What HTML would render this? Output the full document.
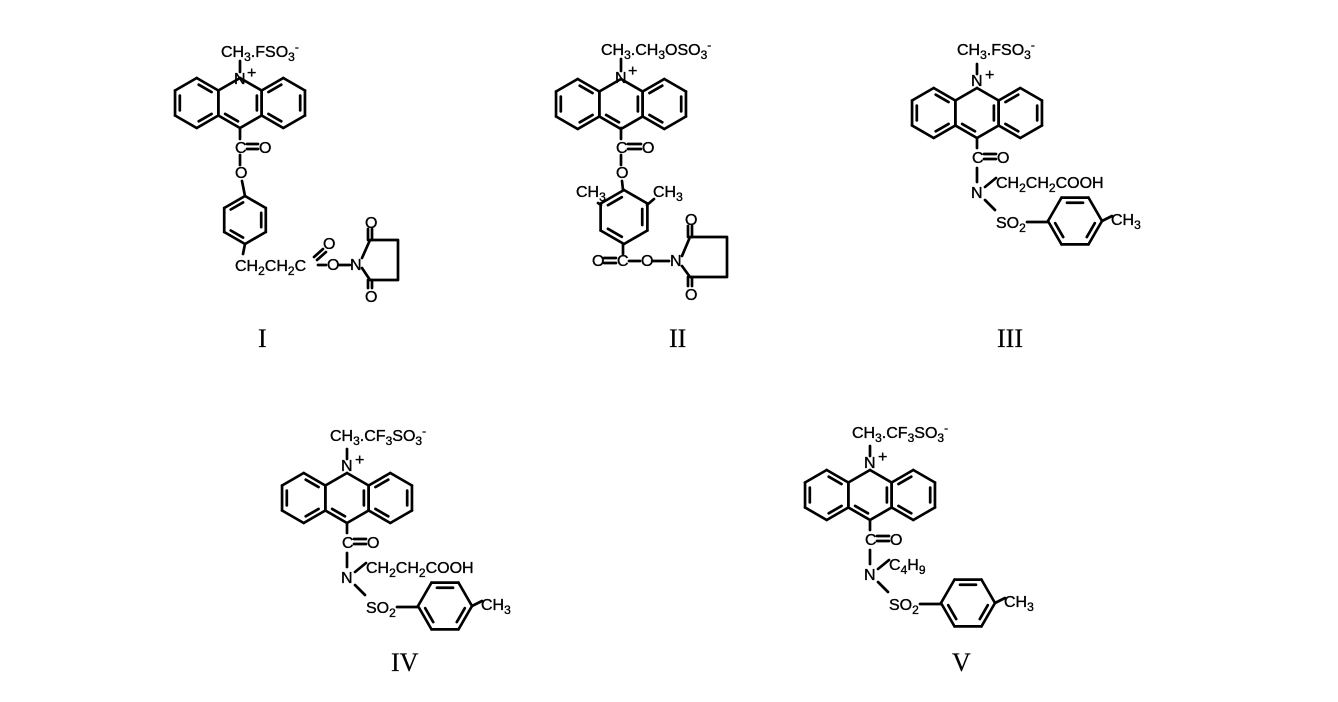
<!DOCTYPE html>
<html><head><meta charset="utf-8"><style>
html,body{margin:0;padding:0;background:#fff;}
svg{display:block;}
text{font-family:"Liberation Sans",Arial,sans-serif;font-size:16px;fill:#000;stroke:#000;stroke-width:0.35;}
.r{font-family:"Liberation Serif",serif;font-size:26px;stroke-width:0.2;}
line,polyline,polygon{stroke:#000;stroke-width:2.7;fill:none;stroke-linecap:round;stroke-linejoin:round;}
</style></head><body>
<svg id="s" width="1338" height="702" viewBox="0 0 1338 702" xmlns="http://www.w3.org/2000/svg">
<rect width="1338" height="702" fill="#fff"/>
<g id="rings"></g>

<!-- ===== I ===== -->
<text x="221" y="57">CH<tspan dy="4" font-size="12">3</tspan><tspan dy="-4">.FSO</tspan><tspan dy="4" font-size="12">3</tspan><tspan dy="-10" font-size="12">-</tspan></text>
<line x1="240" y1="61" x2="240" y2="72"/>
<text x="234" y="84">N</text><text x="247" y="78" font-size="13">+</text>
<line x1="240" y1="128" x2="240" y2="139"/>
<text x="235" y="153">C</text>
<line x1="247" y1="144" x2="258" y2="144"/><line x1="247" y1="149" x2="258" y2="149"/>
<text x="259" y="153">O</text>
<line x1="240" y1="155" x2="240" y2="165"/>
<text x="235" y="178">O</text>
<line x1="242" y1="181" x2="245" y2="196"/>
<line x1="245" y1="244" x2="243" y2="254"/>
<text x="235" y="271" font-size="17">CH<tspan dy="4" font-size="12">2</tspan><tspan dy="-4">CH</tspan><tspan dy="4" font-size="12">2</tspan><tspan dy="-4">C</tspan></text>
<line x1="314" y1="257" x2="323" y2="249"/><line x1="317" y1="260" x2="326" y2="252"/>
<text x="323" y="249">O</text>
<line x1="318" y1="265" x2="326" y2="265"/>
<text x="327" y="270">O</text>
<line x1="339" y1="265" x2="350" y2="265"/>
<text x="350" y="270">N</text>
<polyline points="362,258 370,240 398,240 398,280 370,280 362,268"/>
<line x1="368" y1="240" x2="368" y2="229"/><line x1="372" y1="240" x2="372" y2="229"/>
<text x="365" y="228">O</text>
<line x1="368" y1="280" x2="368" y2="288"/><line x1="372" y1="280" x2="372" y2="288"/>
<text x="365" y="302">O</text>
<text x="258" y="347" class="r">I</text>

<!-- ===== II ===== -->
<text x="601" y="55">CH<tspan dy="4" font-size="12">3</tspan><tspan dy="-4">.CH</tspan><tspan dy="4" font-size="12">3</tspan><tspan dy="-4">OSO</tspan><tspan dy="4" font-size="12">3</tspan><tspan dy="-10" font-size="12">-</tspan></text>
<line x1="621" y1="59" x2="621" y2="71"/>
<text x="615" y="83">N</text><text x="628" y="76" font-size="13">+</text>
<line x1="621" y1="128" x2="621" y2="139"/>
<text x="616" y="153">C</text>
<line x1="628" y1="144" x2="641" y2="144"/><line x1="628" y1="149" x2="641" y2="149"/>
<text x="642" y="153">O</text>
<line x1="621" y1="155" x2="621" y2="165"/>
<text x="616" y="178">O</text>
<line x1="622" y1="181" x2="623" y2="190"/>
<text x="576" y="197">CH<tspan dy="4" font-size="12">3</tspan></text>
<line x1="598" y1="203" x2="601" y2="205"/>
<text x="653" y="197">CH<tspan dy="4" font-size="12">3</tspan></text>
<line x1="647" y1="205" x2="654" y2="199"/>
<line x1="623" y1="244" x2="623" y2="254"/>
<text x="592" y="266">O</text>
<line x1="604" y1="258" x2="616" y2="258"/><line x1="604" y1="263" x2="616" y2="263"/>
<text x="617" y="266">C</text>
<line x1="629" y1="261" x2="640" y2="261"/>
<text x="641" y="266">O</text>
<line x1="653" y1="261" x2="669" y2="261"/>
<text x="670" y="266">N</text>
<polyline points="682,256 690,237 727,237 727,277 690,277 682,266"/>
<line x1="688" y1="237" x2="688" y2="226"/><line x1="692" y1="237" x2="692" y2="226"/>
<text x="685" y="225">O</text>
<line x1="688" y1="277" x2="688" y2="286"/><line x1="692" y1="277" x2="692" y2="286"/>
<text x="685" y="300">O</text>
<text x="669" y="347" class="r">II</text>

<!-- ===== III template ===== -->
<g id="t3">
<line x1="977" y1="64" x2="977" y2="74"/>
<text x="971" y="86">N</text><text x="985" y="80" font-size="13">+</text>
<line x1="977" y1="138" x2="977" y2="148"/>
<text x="972" y="163">C</text>
<line x1="984" y1="154" x2="996" y2="154"/><line x1="984" y1="159" x2="996" y2="159"/>
<text x="997" y="163">O</text>
<line x1="977" y1="168" x2="977" y2="182"/>
<text x="971" y="198">N</text>
<line x1="985" y1="187" x2="996" y2="178"/>
<line x1="985" y1="200" x2="995" y2="210"/>
<text x="996" y="228">SO<tspan dy="4" font-size="12">2</tspan></text>
<line x1="1027" y1="222" x2="1048" y2="222"/>
<line x1="1102" y1="221" x2="1112" y2="216"/>
<text x="1111" y="225">CH<tspan dy="4" font-size="12">3</tspan></text>
</g>
<text x="957" y="55">CH<tspan dy="4" font-size="12">3</tspan><tspan dy="-4">.FSO</tspan><tspan dy="4" font-size="12">3</tspan><tspan dy="-10" font-size="12">-</tspan></text>
<text x="996" y="188">CH<tspan dy="4" font-size="12">2</tspan><tspan dy="-4">CH</tspan><tspan dy="4" font-size="12">2</tspan><tspan dy="-4">COOH</tspan></text>
<text x="997" y="347" class="r">III</text>

<!-- ===== IV ===== -->
<use href="#t3" transform="translate(-630,385)"/>
<text x="330" y="441">CH<tspan dy="4" font-size="12">3</tspan><tspan dy="-4">.CF</tspan><tspan dy="4" font-size="12">3</tspan><tspan dy="-4">SO</tspan><tspan dy="4" font-size="12">3</tspan><tspan dy="-10" font-size="12">-</tspan></text>
<text x="366" y="573">CH<tspan dy="4" font-size="12">2</tspan><tspan dy="-4">CH</tspan><tspan dy="4" font-size="12">2</tspan><tspan dy="-4">COOH</tspan></text>
<text x="391" y="671" class="r">IV</text>

<!-- ===== V ===== -->
<use href="#t3" transform="translate(-107,382)"/>
<text x="852" y="438">CH<tspan dy="4" font-size="12">3</tspan><tspan dy="-4">.CF</tspan><tspan dy="4" font-size="12">3</tspan><tspan dy="-4">SO</tspan><tspan dy="4" font-size="12">3</tspan><tspan dy="-10" font-size="12">-</tspan></text>
<text x="889" y="570">C<tspan dy="4" font-size="12">4</tspan><tspan dy="-4">H</tspan><tspan dy="4" font-size="12">9</tspan></text>
<text x="952" y="671" class="r">V</text>
</svg>
<script>
(function(){
var g=document.getElementById('rings'),NS='http://www.w3.org/2000/svg';
function L(a,b,c,d){var l=document.createElementNS(NS,'line');l.setAttribute('x1',a);l.setAttribute('y1',b);l.setAttribute('x2',c);l.setAttribute('y2',d);g.appendChild(l);}
function hex(cx,cy,s,pointy,dbl){
  var v=[];for(var i=0;i<6;i++){var a=(pointy?-90:180)+60*i;a=a*Math.PI/180;v.push([cx+s*Math.cos(a),cy+s*Math.sin(a)]);}
  for(var i=0;i<6;i++){var p=v[i],q=v[(i+1)%6];L(p[0],p[1],q[0],q[1]);}
  dbl.forEach(function(i){var p=v[i],q=v[(i+1)%6],k=0.78;
    var p1=[cx+(p[0]-cx)*k,cy+(p[1]-cy)*k],q1=[cx+(q[0]-cx)*k,cy+(q[1]-cy)*k];
    var dx=q1[0]-p1[0],dy=q1[1]-p1[1],t=0.12;
    L(p1[0]+dx*t,p1[1]+dy*t,q1[0]-dx*t,q1[1]-dy*t);});
}
function acr(cx,cy,s){var w=s*Math.sqrt(3);
  hex(cx-w,cy,s,true,[0,2,4]);hex(cx,cy,s,true,[1,3]);hex(cx+w,cy,s,true,[5,1,3]);}
acr(240,103,25);acr(621,104,25);acr(977,113,25);acr(347,498,25);acr(870,495,25);
hex(245,220,24,true,[1,3,5]);
hex(624,217,27,true,[1,3,5]);
hex(1075,221,27,false,[1,3,5]);hex(445,606,27,false,[1,3,5]);hex(968,603,27,false,[1,3,5]);
})();
</script>
</body></html>
